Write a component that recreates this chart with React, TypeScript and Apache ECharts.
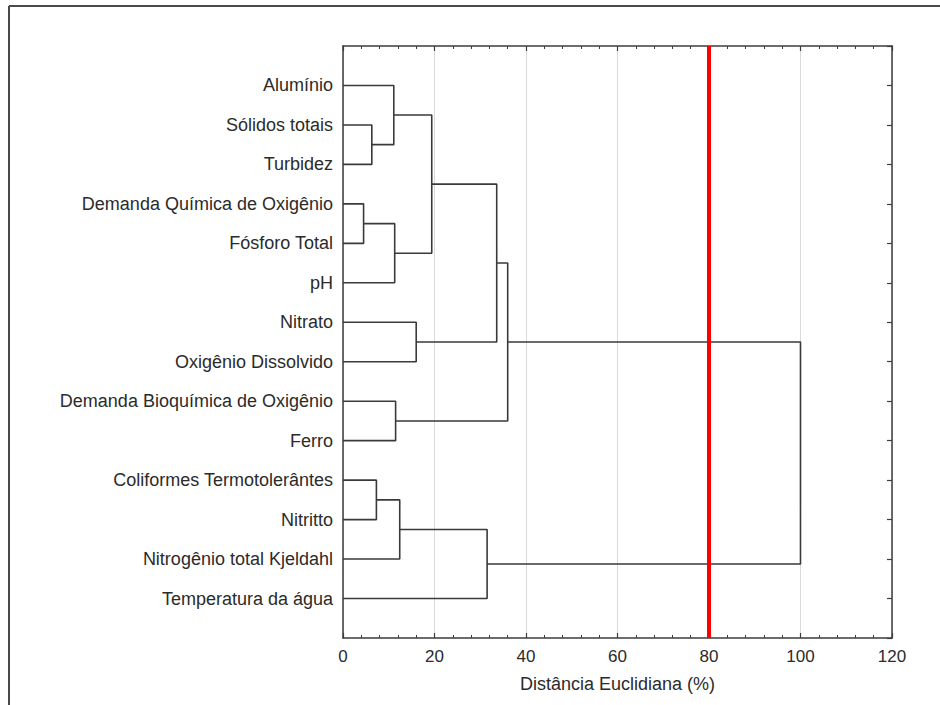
import React, { useEffect, useRef } from "react";
import * as echarts from "echarts";

const leaves: string[] = [
  "Alumínio",
  "Sólidos totais",
  "Turbidez",
  "Demanda Química de Oxigênio",
  "Fósforo Total",
  "pH",
  "Nitrato",
  "Oxigênio Dissolvido",
  "Demanda Bioquímica de Oxigênio",
  "Ferro",
  "Coliformes Termotolerântes",
  "Nitritto",
  "Nitrogênio total Kjeldahl",
  "Temperatura da água",
];

// merges: node ids 0..13 are leaves, 14+k is the k-th merge
const mergeA: number[] = [1, 3, 0, 15, 6, 16, 19, 8, 20, 10, 23, 24, 22];
const mergeB: number[] = [2, 4, 14, 5, 7, 17, 18, 9, 21, 11, 12, 13, 25];
const mergeHeight: number[] = [6.3, 4.5, 11.1, 11.3, 16.0, 19.4, 33.6, 11.5, 36.0, 7.3, 12.4, 31.5, 100];

const xTicks: number[] = [0, 20, 40, 60, 80, 100, 120];
const cutHeight = 80;
const xAxisName = "Distância Euclidiana (%)";

const FONT = "'Liberation Sans', Arial, sans-serif";

function buildLinks() {
  const n = leaves.length;
  const pos: number[] = leaves.map((_, i) => i + 1);
  const hgt: number[] = leaves.map(() => 0);
  const links: number[][][] = [];
  mergeA.forEach((a, k) => {
    const b = mergeB[k];
    const h = mergeHeight[k];
    links.push([
      [hgt[a], pos[a]],
      [h, pos[a]],
      [h, pos[b]],
      [hgt[b], pos[b]],
    ]);
    pos[n + k] = (pos[a] + pos[b]) / 2;
    hgt[n + k] = h;
  });
  return links;
}

export default function App() {
  const ref = useRef<HTMLDivElement>(null);
  useEffect(() => {
    if (!ref.current) return;
    const chart = echarts.init(ref.current, undefined, { renderer: "svg" });
    const links = buildLinks();
    const axisLine = { show: true, onZero: false, lineStyle: { color: "#3c3c3c", width: 1.5 } };
    const series: any[] = links.map((pts, i) => ({
      type: "line",
      name: "link" + i,
      data: pts,
      symbol: "none",
      silent: true,
      z: 3,
      lineStyle: { color: "#3a3a3a", width: 1.6 },
    }));
    series.push({
      type: "line",
      name: "cut",
      data: [
        [cutHeight, 0],
        [cutHeight, leaves.length + 1],
      ],
      symbol: "none",
      silent: true,
      z: 5,
      lineStyle: { color: "#ff0000", width: 4 },
    });
    chart.setOption({
      animation: false,
      backgroundColor: "#ffffff",
      grid: { left: 343, top: 46, right: 48, bottom: 67, containLabel: false },
      xAxis: [
        {
          type: "value",
          position: "bottom",
          min: xTicks[0],
          max: xTicks[xTicks.length - 1],
          interval: 20,
          axisLine,
          axisTick: { show: true, inside: true, length: 5, lineStyle: { color: "#3c3c3c", width: 1.2 } },
          minorTick: { show: true, splitNumber: 5, length: 3, lineStyle: { color: "#3c3c3c", width: 1 } },
          splitLine: { show: true, lineStyle: { color: "#d9d9d9", width: 1 } },
          axisLabel: { color: "#2b2b2b", fontSize: 17, fontFamily: FONT, margin: 10 },
          name: xAxisName,
          nameLocation: "middle",
          nameGap: 37,
          nameTextStyle: { color: "#2b2b2b", fontSize: 18, fontFamily: FONT },
        },
        {
          type: "value",
          position: "top",
          min: xTicks[0],
          max: xTicks[xTicks.length - 1],
          interval: 20,
          axisLine,
          axisTick: { show: true, inside: true, length: 5, lineStyle: { color: "#3c3c3c", width: 1.2 } },
          minorTick: { show: true, splitNumber: 5, length: 3, lineStyle: { color: "#3c3c3c", width: 1 } },
          splitLine: { show: false },
          axisLabel: { show: false },
        },
      ],
      yAxis: [
        {
          type: "value",
          position: "left",
          inverse: true,
          min: 0,
          max: leaves.length + 1,
          interval: 1,
          axisLine,
          axisTick: { show: false },
          splitLine: { show: false },
          axisLabel: {
            color: "#2b2b2b",
            fontSize: 18,
            fontFamily: FONT,
            margin: 10,
            formatter: (v: number) => leaves[v - 1] ?? "",
          },
        },
        {
          type: "value",
          position: "right",
          inverse: true,
          min: 0,
          max: leaves.length + 1,
          interval: 1,
          axisLine,
          axisTick: { show: true, inside: true, length: 5, lineStyle: { color: "#3c3c3c", width: 1.2 } },
          splitLine: { show: false },
          axisLabel: { show: false },
        },
      ],
      graphic: [
        { type: "line", shape: { x1: 9, y1: 6, x2: 940, y2: 6 }, style: { stroke: "#4a4a4a", lineWidth: 2 } },
        { type: "line", shape: { x1: 9, y1: 6, x2: 9, y2: 705 }, style: { stroke: "#4a4a4a", lineWidth: 2 } },
      ],
      series,
    });
    return () => chart.dispose();
  }, []);
  return (
    <div
      ref={ref}
      style={{ position: "absolute", left: 0, top: 0, width: 940, height: 705 }}
    />
  );
}
